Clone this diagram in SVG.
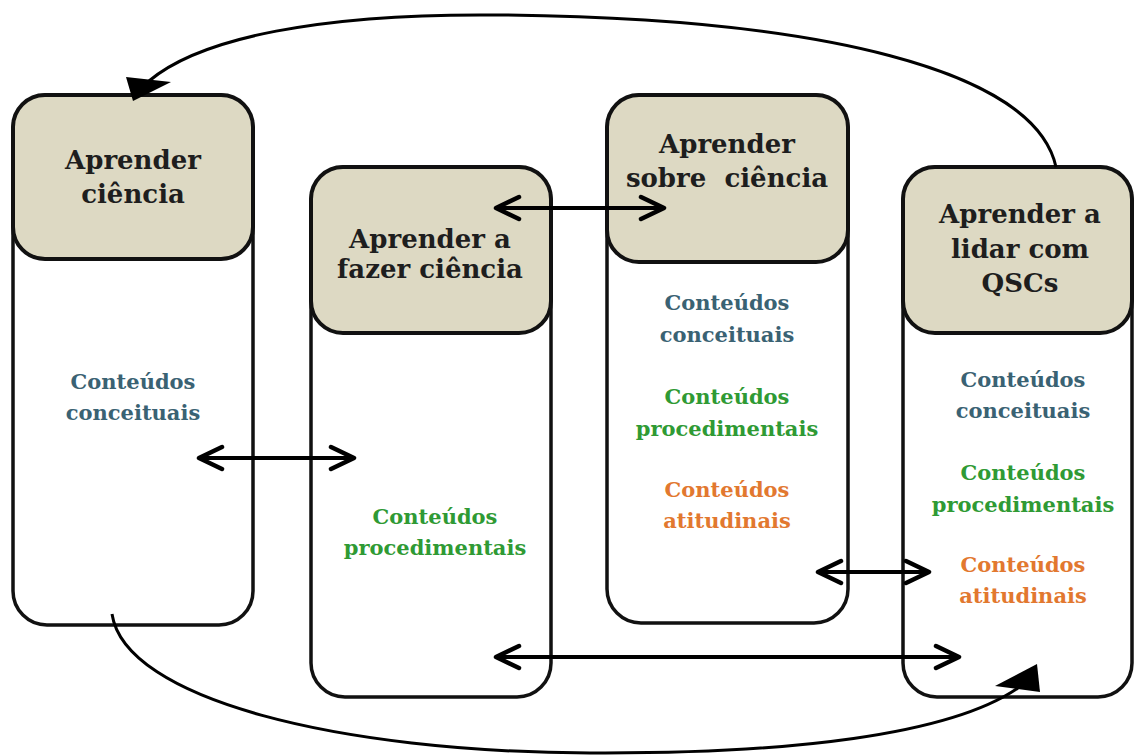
<svg xmlns="http://www.w3.org/2000/svg" width="1135" height="756" viewBox="0 0 1135 756">
<style>
.box{fill:#ffffff;stroke:#111;stroke-width:3.5}
.hdr{fill:#DDD9C3;stroke:#111;stroke-width:4}
.ht{font-family:"DejaVu Serif","Liberation Serif",serif;font-weight:bold;font-size:26px;fill:#1e1e1e;text-anchor:middle;white-space:pre}
.ct{font-family:"DejaVu Serif","Liberation Serif",serif;font-weight:bold;font-size:21px;text-anchor:middle}
.c1{fill:#3A6273}
.c2{fill:#2F9A34}
.c3{fill:#E2782F}
.arr{fill:none;stroke:#000;stroke-width:4;marker-start:url(#oa);marker-end:url(#oa)}
.cur{fill:none;stroke:#000;stroke-width:3}
</style>
<defs>
<marker id="oa" viewBox="-28 -14 31 28" refX="0" refY="0" markerWidth="31" markerHeight="28" markerUnits="userSpaceOnUse" orient="auto-start-reverse">
<path d="M-23,-11 L0,0 L-23,11" fill="none" stroke="#000" stroke-width="4.5" stroke-linecap="round" stroke-linejoin="round"/>
</marker>
</defs>
<rect width="1135" height="756" fill="#fff"/>
<g id="node1">
<rect class="box" x="13" y="95" width="240" height="530" rx="34"/>
<rect class="hdr" x="13" y="95" width="240" height="164" rx="32"/>
<text class="ht" x="133" y="169">Aprender</text>
<text class="ht" x="133" y="203">ciência</text>
<text class="ct c1" x="133" y="389">Conteúdos</text>
<text class="ct c1" x="133" y="420">conceituais</text>
</g>
<g id="node2">
<rect class="box" x="311" y="167" width="240" height="530" rx="34"/>
<rect class="hdr" x="311" y="167" width="240" height="166" rx="32"/>
<text class="ht" x="430" y="248">Aprender a</text>
<text class="ht" x="430" y="278">fazer ciência</text>
<text class="ct c2" x="435" y="524">Conteúdos</text>
<text class="ct c2" x="435" y="555">procedimentais</text>
</g>
<g id="node3">
<rect class="box" x="607" y="95" width="241" height="528" rx="34"/>
<rect class="hdr" x="607" y="95" width="241" height="167" rx="32"/>
<text class="ht" x="727" y="153">Aprender</text>
<text class="ht" x="727" y="187" xml:space="preserve">sobre  ciência</text>
<text class="ct c1" x="727" y="310">Conteúdos</text>
<text class="ct c1" x="727" y="342">conceituais</text>
<text class="ct c2" x="727" y="404">Conteúdos</text>
<text class="ct c2" x="727" y="436">procedimentais</text>
<text class="ct c3" x="727" y="497">Conteúdos</text>
<text class="ct c3" x="727" y="528">atitudinais</text>
</g>
<g id="node4">
<rect class="box" x="903" y="167" width="229" height="530" rx="34"/>
<rect class="hdr" x="903" y="167" width="229" height="166" rx="32"/>
<text class="ht" x="1020" y="223">Aprender a</text>
<text class="ht" x="1020" y="258">lidar com</text>
<text class="ht" x="1020" y="292">QSCs</text>
<text class="ct c1" x="1023" y="387">Conteúdos</text>
<text class="ct c1" x="1023" y="418">conceituais</text>
<text class="ct c2" x="1023" y="480">Conteúdos</text>
<text class="ct c2" x="1023" y="512">procedimentais</text>
<text class="ct c3" x="1023" y="572">Conteúdos</text>
<text class="ct c3" x="1023" y="603">atitudinais</text>
</g>
<g id="connectors">
<line class="arr" x1="199" y1="458" x2="354" y2="458"/>
<line class="arr" x1="496" y1="208" x2="664" y2="208"/>
<line class="arr" x1="818" y1="572" x2="929" y2="572"/>
<line class="arr" x1="496" y1="657" x2="959" y2="657"/>
<path class="cur" d="M1056,167 C1035,70 820,18 500,15 C320,13 200,38 149,81"/>
<polygon points="133,101 126,77 171,82" fill="#000"/>
<path class="cur" d="M112,614 C125,700 340,752 590,753 C790,754 950,735 1018,688"/>
<polygon points="1037,664 995,686 1040,692" fill="#000"/>
</g>
</svg>
